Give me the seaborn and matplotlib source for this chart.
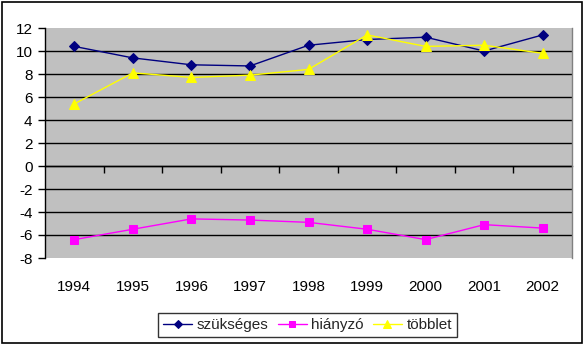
import matplotlib
matplotlib.use("Agg")
import matplotlib.pyplot as plt
from matplotlib.patches import Rectangle
from matplotlib.ticker import NullFormatter
import numpy as np
import pandas as pd
import seaborn as sns

# Yearly values per category
years = ["1994", "1995", "1996", "1997", "1998", "1999", "2000", "2001", "2002"]
szukseges = [10.4, 9.4, 8.8, 8.7, 10.5, 11.0, 11.2, 10.0, 11.4]
hianyzo = [-6.4, -5.5, -4.6, -4.7, -4.9, -5.5, -6.4, -5.1, -5.4]
tobblet = [5.4, 8.1, 7.7, 7.9, 8.4, 11.4, 10.4, 10.5, 9.8]

series_names = ["szükséges", "hiányzó", "többlet"]
series_values = [szukseges, hianyzo, tobblet]
colors = {"szükséges": "#000080", "hiányzó": "#FF00FF", "többlet": "#FFFF00"}
markers = {"szükséges": "D", "hiányzó": "s", "többlet": "^"}
msizes = {"szükséges": 5, "hiányzó": 6, "többlet": 7}

rows = []
for name, vals in zip(series_names, series_values):
    for i, (yr, v) in enumerate(zip(years, vals)):
        rows.append({"pos": i, "year": yr, "value": v, "series": name})
df = pd.DataFrame(rows)

sns.set_theme(style="white")
plt.rcParams["font.family"] = ["Liberation Sans", "DejaVu Sans"]
plt.rcParams["axes.unicode_minus"] = False

FS = 11

fig = plt.figure(figsize=(5.85, 3.47), dpi=100)
ax = fig.add_axes([45 / 585, 1 - 258 / 347, (572 - 45) / 585, (258 - 28) / 347])
ax.set_facecolor("#C0C0C0")

for name in series_names:
    sub = df[df["series"] == name]
    sns.lineplot(data=sub, x="pos", y="value", ax=ax, color=colors[name],
                 marker=markers[name], markersize=msizes[name],
                 markeredgecolor=colors[name], linewidth=1.0,
                 label=name, legend=False, zorder=3)

ax.set_xlim(-0.5, len(years) - 0.5)
ax.set_ylim(-8, 12)
ax.set_yticks(np.arange(-8, 13, 2))
ax.grid(False)
for yv in np.arange(-6, 12, 2):
    ax.axhline(yv, color="black", linewidth=1.0, zorder=1)

# Category labels along the bottom, no tick marks there
ax.set_xticks(range(len(years)))
ax.set_xticklabels(years)
ax.tick_params(axis="x", length=0, pad=16, labelsize=FS, colors="black")
ax.tick_params(axis="y", length=5, width=1, direction="out", pad=4,
               labelsize=FS, colors="black", left=True)
ax.set_xlabel("")
ax.set_ylabel("")

for side in ["top", "bottom"]:
    ax.spines[side].set_visible(False)
ax.spines["right"].set_color("#808080")
ax.spines["right"].set_linewidth(1.0)
ax.spines["left"].set_color("black")
ax.spines["left"].set_linewidth(1.0)

# Category axis crossing at zero with boundary tick marks
sec = ax.secondary_xaxis(0.4)
sec.set_xticks(np.arange(0.5, len(years) - 0.5, 1.0))
sec.xaxis.set_major_formatter(NullFormatter())
sec.tick_params(axis="x", length=5, width=1, direction="out", colors="black")
sec.spines["bottom"].set_color("black")
sec.spines["bottom"].set_linewidth(1.0)

handles, labels = ax.get_legend_handles_labels()
leg = fig.legend(handles, labels, loc="center", bbox_to_anchor=(307.5 / 585, 1 - 325 / 347),
                 ncol=3, frameon=True, fancybox=False, fontsize=FS,
                 handlelength=1.9, handletextpad=0.3, columnspacing=0.6,
                 borderpad=0.35, markerscale=0.75)
leg.get_frame().set_edgecolor("black")
leg.get_frame().set_linewidth(1.0)

fig.patches.append(Rectangle((2 / 585, 1 - 343 / 347), 580 / 585, 341 / 347,
                             transform=fig.transFigure, fill=False,
                             edgecolor="black", linewidth=1.2))

fig.savefig("out.png", dpi=100, facecolor="white")
